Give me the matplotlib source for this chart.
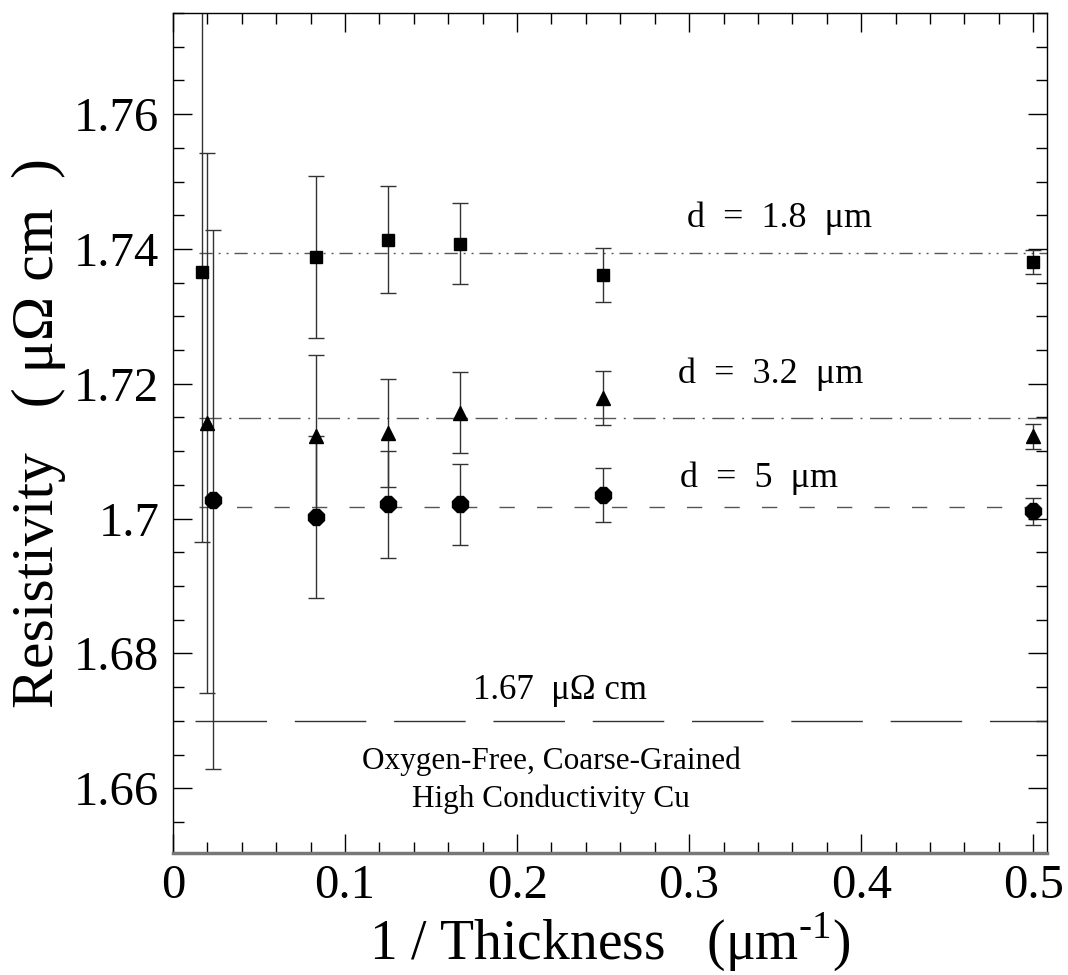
import numpy as np
import matplotlib
matplotlib.use("Agg")
import matplotlib.pyplot as plt
from matplotlib.ticker import MultipleLocator

plt.rcParams['font.family'] = ['Liberation Serif', 'DejaVu Serif']
plt.rcParams['mathtext.fontset'] = 'custom'
plt.rcParams['mathtext.rm'] = 'Liberation Serif'

# 1/thickness of the samples (um^-1), three foil thicknesses each
x_sq = [0.017, 1/12, 1/8, 1/6, 1/4, 1/2]
rho_sq = [1.7366, 1.7388, 1.7414, 1.7408, 1.7361, 1.7381]
err_sq = [0.040, 0.012, 0.008, 0.006, 0.004, 0.0018]

x_tri = [0.020, 1/12, 1/8, 1/6, 1/4, 1/2]
rho_tri = [1.7142, 1.7123, 1.7127, 1.7157, 1.7179, 1.7122]
err_tri = [0.040, 0.012, 0.008, 0.006, 0.004, 0.0018]

x_oct = [0.023, 1/12, 1/8, 1/6, 1/4, 1/2]
rho_oct = [1.7028, 1.7003, 1.7021, 1.7021, 1.7035, 1.7011]
err_oct = [0.040, 0.012, 0.008, 0.006, 0.004, 0.002]

# averages for d = 1.8, 3.2, 5 um and the bulk value
avg_18 = 1.7394
avg_32 = 1.7149
avg_5 = 1.7017
bulk = 1.67

fig = plt.figure(figsize=(10.68, 9.75), dpi=100)
ax = fig.add_axes([0.162, 0.1251, 0.8183, 0.8616])

xs = [0.015, 0.508]
ax.plot(xs, [avg_18, avg_18], color='#555555', lw=1, dashes=(9.5, 4.3, 1.4, 4.3, 1.4, 4.3))
ax.plot(xs, [avg_32, avg_32], color='#555555', lw=1, dashes=(16, 5.5, 1.4, 5.5))
ax.plot(xs, [avg_5, avg_5], color='#555555', lw=1, dashes=(11, 16))
ax.plot([0.013, 0.508], [bulk, bulk], color='#333333', lw=1, dashes=(51.5, 20))

ekw = dict(ls='none', ecolor='#333333', elinewidth=1, capsize=6, capthick=1, color='black')
ax.errorbar(x_sq, rho_sq, yerr=err_sq, marker='s', ms=9, **ekw)
ax.errorbar(x_tri, rho_tri, yerr=err_tri, marker='^', ms=9.5, **ekw)
ax.errorbar(x_oct, rho_oct, yerr=err_oct, marker='8', ms=12, **ekw)

sp = '\u2002'
ax.text(0.2985, 1.7433, 'd' + sp + '=' + sp + '1.8' + sp + '\u03bcm', fontsize=26, ha='left', va='baseline')
ax.text(0.2935, 1.7201, 'd' + sp + '=' + sp + '3.2' + sp + '\u03bcm', fontsize=26, ha='left', va='baseline')
ax.text(0.2945, 1.7047, 'd' + sp + '=' + sp + '5' + sp + '\u03bcm', fontsize=26, ha='left', va='baseline')
ax.text(0.2251, 1.6733, '1.67' + sp + '\u03bc\u03a9 cm', fontsize=25, ha='center', va='baseline')
ax.text(0.2197, 1.6628, 'Oxygen-Free, Coarse-Grained', fontsize=22.5, ha='center', va='baseline')
ax.text(0.2197, 1.6572, 'High Conductivity Cu', fontsize=22.5, ha='center', va='baseline')

ax.set_xlim(0, 0.508)
ax.set_ylim(1.6504, 1.775)
ax.xaxis.set_major_locator(MultipleLocator(0.1))
ax.xaxis.set_minor_locator(MultipleLocator(0.02))
ax.yaxis.set_major_locator(MultipleLocator(0.02))
ax.yaxis.set_minor_locator(MultipleLocator(0.005))
ax.xaxis.set_major_formatter(plt.FuncFormatter(lambda v, p: '%g' % round(v, 2)))
ax.yaxis.set_major_formatter(plt.FuncFormatter(lambda v, p: '%g' % round(v, 2)))
ax.tick_params(which='both', direction='in', top=True, right=True, labelsize=35, width=1)
ax.tick_params(which='major', length=14)
ax.tick_params(which='minor', length=8)
ax.tick_params(axis='x', pad=8)
ax.tick_params(axis='y', pad=10)

for s in ['left', 'right', 'top']:
    ax.spines[s].set_linewidth(1)
ax.spines['bottom'].set_linewidth(2.5)
ax.spines['bottom'].set_color('#777777')

ax.set_xlabel('1 / Thickness   (\u03bcm$^{\\mathregular{\u2010}\\mathregular{1}}$)', fontsize=40, labelpad=2)
ax.set_ylabel('Resistivity' + sp + ' ( \u03bc\u03a9 cm' + sp + ')', fontsize=43, labelpad=6)

fig.savefig('out.png', dpi=100)
